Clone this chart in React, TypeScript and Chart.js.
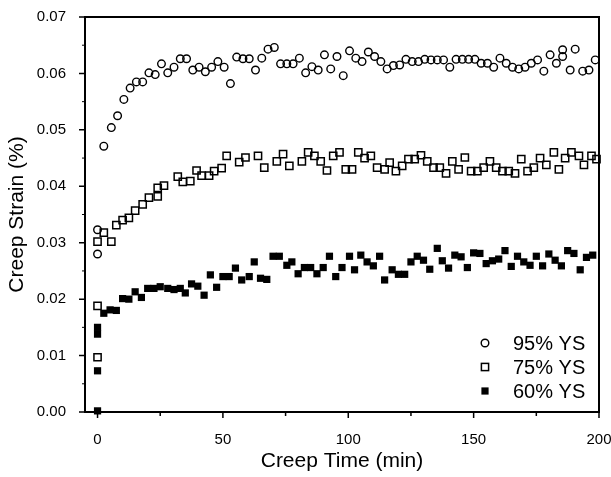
import { useEffect, useRef } from 'react';
import { Chart, registerables } from 'chart.js';

Chart.register(...registerables);

const FONT = '"Liberation Sans", Arial, Helvetica, sans-serif';

const xTickValues = [0, 50, 100, 150, 200];
const xMinorTicks = [25, 75, 125, 175];
const yTickValues = [0, 0.01, 0.02, 0.03, 0.04, 0.05, 0.06, 0.07];
const yMinorTicks = [0.005, 0.015, 0.025, 0.035, 0.045, 0.055, 0.065];
const seriesLabels = ['95% YS', '75% YS', '60% YS'];

const x95 = [0, 0, 2.5, 5.5, 8, 10.5, 13, 15.5, 18, 20.5, 23, 25.5, 28, 30.5, 33, 35.5, 38, 40.5, 43, 45.5, 48, 50.5, 53, 55.5, 58, 60.5, 63, 65.5, 68, 70.5, 73, 75.5, 78, 80.5, 83, 85.5, 88, 90.5, 93, 95.5, 98, 100.5, 103, 105.5, 108, 110.5, 113, 115.5, 118, 120.5, 123, 125.5, 128, 130.5, 133, 135.5, 138, 140.5, 143, 145.5, 148, 150.5, 153, 155.5, 158, 160.5, 163, 165.5, 168, 170.5, 173, 175.5, 178, 180.5, 183, 185.5, 185.5, 188.5, 190.5, 193.5, 196, 198.5];
const y95 = [0.0323, 0.0280, 0.0471, 0.0504, 0.0525, 0.0554, 0.0574, 0.0585, 0.0585, 0.0601, 0.0598, 0.0617, 0.0601, 0.0611, 0.0626, 0.0626, 0.0606, 0.0611, 0.0603, 0.0611, 0.0621, 0.0611, 0.0582, 0.0629, 0.0626, 0.0626, 0.0606, 0.0627, 0.0643, 0.0646, 0.0617, 0.0617, 0.0617, 0.0627, 0.0601, 0.0612, 0.0606, 0.0633, 0.0608, 0.0630, 0.0596, 0.0640, 0.0627, 0.0621, 0.0638, 0.0630, 0.0621, 0.0608, 0.0614, 0.0615, 0.0625, 0.0621, 0.0621, 0.0625, 0.0624, 0.0624, 0.0624, 0.0611, 0.0625, 0.0625, 0.0625, 0.0625, 0.0618, 0.0618, 0.0611, 0.0627, 0.0618, 0.0611, 0.0608, 0.0611, 0.0618, 0.0624, 0.0604, 0.0633, 0.0618, 0.0642, 0.0630, 0.0606, 0.0643, 0.0604, 0.0606, 0.0624];

const x75 = [0, 0, 0, 2.5, 5.5, 7.5, 10, 12.5, 15, 18, 20.5, 24, 24, 26.5, 32, 34, 37, 39.5, 41.5, 44.5, 46.5, 49.5, 51.5, 56.5, 59, 64, 66.5, 71.5, 74, 76.5, 81.5, 84, 86.5, 89, 91.5, 94, 96.5, 99, 101.5, 104, 106.5, 109, 111.5, 114.5, 116.5, 119, 121.5, 124, 126.5, 129, 131.5, 134, 136.5, 139, 141.5, 144, 146.5, 149, 151.5, 154, 156.5, 159, 161.5, 164, 166.5, 169, 171.5, 174, 176.5, 179, 182, 184, 186.5, 189, 192, 194, 197, 199];
const y75 = [0.0302, 0.0188, 0.0097, 0.0318, 0.0302, 0.0331, 0.0340, 0.0344, 0.0357, 0.0368, 0.0380, 0.0382, 0.0397, 0.0401, 0.0417, 0.0408, 0.0409, 0.0428, 0.0419, 0.0419, 0.0427, 0.0432, 0.0454, 0.0443, 0.0451, 0.0454, 0.0433, 0.0444, 0.0457, 0.0436, 0.0444, 0.0460, 0.0454, 0.0444, 0.0428, 0.0454, 0.0460, 0.0430, 0.0430, 0.0460, 0.0450, 0.0454, 0.0433, 0.0430, 0.0442, 0.0427, 0.0436, 0.0448, 0.0448, 0.0455, 0.0444, 0.0433, 0.0433, 0.0423, 0.0444, 0.0430, 0.0451, 0.0427, 0.0427, 0.0433, 0.0444, 0.0433, 0.0427, 0.0427, 0.0423, 0.0448, 0.0427, 0.0433, 0.0450, 0.0438, 0.0460, 0.0430, 0.0450, 0.0460, 0.0454, 0.0438, 0.0454, 0.0448];

const x60 = [0, 0, 0, 0, 2.5, 5, 7.5, 10, 12.5, 15, 17.5, 20, 22.5, 25, 28, 30.5, 33, 35, 37.5, 40, 42.5, 45, 47.5, 50, 52.5, 55, 57.5, 60.5, 62.5, 65, 67.5, 70, 72.5, 75.5, 77.5, 80, 82.5, 85, 87.5, 90, 92.5, 95, 97.5, 100.5, 102.5, 105, 107.5, 110, 112.5, 114.5, 117.5, 120, 122.5, 125, 127.5, 130, 132.5, 135.5, 137.5, 140, 142.5, 145, 147.5, 150, 152.5, 155, 157.5, 160, 162.5, 165, 167.5, 170, 172.5, 175, 177.5, 180, 182.5, 185, 187.5, 190, 192.5, 195, 197.5];
const y60 = [0.0150, 0.0138, 0.0073, 0.0002, 0.0175, 0.0181, 0.0180, 0.0201, 0.0200, 0.0213, 0.0203, 0.0219, 0.0219, 0.0222, 0.0219, 0.0217, 0.0219, 0.0211, 0.0227, 0.0223, 0.0207, 0.0243, 0.0221, 0.0240, 0.0240, 0.0255, 0.0234, 0.0240, 0.0266, 0.0237, 0.0235, 0.0276, 0.0276, 0.0260, 0.0266, 0.0245, 0.0256, 0.0256, 0.0245, 0.0256, 0.0276, 0.0240, 0.0256, 0.0276, 0.0252, 0.0278, 0.0266, 0.0259, 0.0276, 0.0234, 0.0252, 0.0244, 0.0244, 0.0266, 0.0276, 0.0269, 0.0253, 0.0290, 0.0268, 0.0255, 0.0278, 0.0275, 0.0256, 0.0282, 0.0281, 0.0263, 0.0268, 0.0271, 0.0286, 0.0258, 0.0276, 0.0266, 0.0260, 0.0276, 0.0259, 0.0280, 0.0269, 0.0259, 0.0286, 0.0281, 0.0252, 0.0274, 0.0278];

const toPoints = (xs: number[], ys: number[]) => xs.map((x, i) => ({ x, y: ys[i] }));

type MarkerKind = 'circle' | 'openSquare' | 'filledSquare';
const markerKinds: MarkerKind[] = ['circle', 'openSquare', 'filledSquare'];

function drawMarker(ctx: CanvasRenderingContext2D, kind: MarkerKind, x: number, y: number) {
  ctx.save();
  ctx.strokeStyle = '#000';
  ctx.fillStyle = '#000';
  if (kind === 'circle') {
    ctx.lineWidth = 1.4;
    ctx.beginPath();
    ctx.arc(x, y, 3.8, 0, Math.PI * 2);
    ctx.stroke();
  } else if (kind === 'openSquare') {
    ctx.lineWidth = 1.5;
    ctx.strokeRect(x - 3.6, y - 3.6, 7.2, 7.2);
  } else {
    ctx.fillRect(x - 3.6, y - 3.6, 7.2, 7.2);
  }
  ctx.restore();
}

export default function App() {
  const ref = useRef<HTMLCanvasElement>(null);

  useEffect(() => {
    document.body.style.margin = '0';
    const canvas = ref.current;
    if (!canvas) return;

    const framePlugin = {
      id: 'frameTicks',
      beforeDatasetsDraw(chart: any) {
        const { ctx, chartArea } = chart;
        const xs = chart.scales.x;
        const ys = chart.scales.y;
        ctx.save();
        ctx.strokeStyle = '#000';
        ctx.lineWidth = 1.5;
        ctx.beginPath();
        for (const v of xTickValues) {
          const p = xs.getPixelForValue(v);
          ctx.moveTo(p, chartArea.bottom);
          ctx.lineTo(p, chartArea.bottom + 6);
        }
        for (const v of xMinorTicks) {
          const p = xs.getPixelForValue(v);
          ctx.moveTo(p, chartArea.bottom);
          ctx.lineTo(p, chartArea.bottom + 4);
        }
        for (const v of yTickValues) {
          const p = ys.getPixelForValue(v);
          ctx.moveTo(chartArea.left, p);
          ctx.lineTo(chartArea.left - 6, p);
        }
        ctx.stroke();
        ctx.lineWidth = 1;
        ctx.beginPath();
        for (const v of yMinorTicks) {
          const p = ys.getPixelForValue(v);
          ctx.moveTo(chartArea.left, p);
          ctx.lineTo(chartArea.left - 3, p);
        }
        ctx.stroke();
        ctx.lineWidth = 2;
        ctx.strokeRect(chartArea.left, chartArea.top, chartArea.right - chartArea.left, chartArea.bottom - chartArea.top);
        ctx.restore();
      },
    };

    const legendPlugin = {
      id: 'insideLegend',
      afterDatasetsDraw(chart: any) {
        const { ctx } = chart;
        const rows = [343, 367, 391];
        ctx.save();
        ctx.font = `20px ${FONT}`;
        ctx.fillStyle = '#000';
        ctx.textBaseline = 'middle';
        ctx.textAlign = 'left';
        seriesLabels.forEach((label, i) => {
          drawMarker(ctx, markerKinds[i], 485, rows[i]);
          ctx.fillText(label, 513, rows[i] + 1);
        });
        ctx.restore();
      },
    };

    const chart = new Chart(canvas, {
      type: 'scatter',
      data: {
        datasets: [
          {
            label: seriesLabels[0],
            data: toPoints(x95, y95),
            pointStyle: 'circle',
            pointRadius: 3.8,
            pointBorderWidth: 1.4,
            pointBorderColor: '#000',
            pointBackgroundColor: 'rgba(0,0,0,0)',
            showLine: false,
            clip: false as any,
          },
          {
            label: seriesLabels[1],
            data: toPoints(x75, y75),
            pointStyle: 'rect',
            pointRadius: 5.1,
            pointBorderWidth: 1.5,
            pointBorderColor: '#000',
            pointBackgroundColor: 'rgba(0,0,0,0)',
            showLine: false,
            clip: false as any,
          },
          {
            label: seriesLabels[2],
            data: toPoints(x60, y60),
            pointStyle: 'rect',
            pointRadius: 5.1,
            pointBorderWidth: 0,
            pointBorderColor: '#000',
            pointBackgroundColor: '#000',
            showLine: false,
            clip: false as any,
          },
        ],
      },
      options: {
        animation: false,
        responsive: false,
        maintainAspectRatio: false,
        layout: { padding: { top: 17, right: 12, left: 0, bottom: 0 } },
        plugins: {
          legend: { display: false },
          tooltip: { enabled: false },
        },
        scales: {
          x: {
            type: 'linear',
            min: -5,
            max: 200,
            afterBuildTicks: (s: any) => {
              s.ticks = xTickValues.map((v) => ({ value: v }));
            },
            afterFit: (s: any) => {
              s.height = 65;
              s.paddingLeft = 0;
              s.paddingRight = 0;
            },
            grid: { display: false },
            border: { display: false },
            ticks: {
              color: '#000',
              font: { family: FONT, size: 15 },
              padding: 11,
              maxRotation: 0,
              autoSkip: false,
              callback: (v: any) => String(v),
            },
            title: {
              display: true,
              text: 'Creep Time (min)',
              color: '#000',
              font: { family: FONT, size: 21 },
              padding: { top: 0, bottom: 3 },
            },
          },
          y: {
            type: 'linear',
            min: 0,
            max: 0.07,
            afterBuildTicks: (s: any) => {
              s.ticks = yTickValues.map((v) => ({ value: v }));
            },
            afterFit: (s: any) => {
              s.width = 85;
              s.paddingTop = 0;
              s.paddingBottom = 0;
            },
            grid: { display: false },
            border: { display: false },
            ticks: {
              color: '#000',
              font: { family: FONT, size: 15 },
              padding: 11,
              autoSkip: false,
              callback: (v: any) => Number(v).toFixed(2),
            },
            title: {
              display: true,
              text: 'Creep Strain (%)',
              color: '#000',
              font: { family: FONT, size: 21 },
              padding: { top: 5, bottom: 0 },
            },
          },
        },
      },
      plugins: [framePlugin, legendPlugin],
    } as any);

    return () => chart.destroy();
  }, []);

  return (
    <div style={{ width: 611, height: 477, position: 'relative', background: '#fff' }}>
      <canvas ref={ref} width={611} height={477} style={{ width: 611, height: 477, display: 'block' }} />
    </div>
  );
}
